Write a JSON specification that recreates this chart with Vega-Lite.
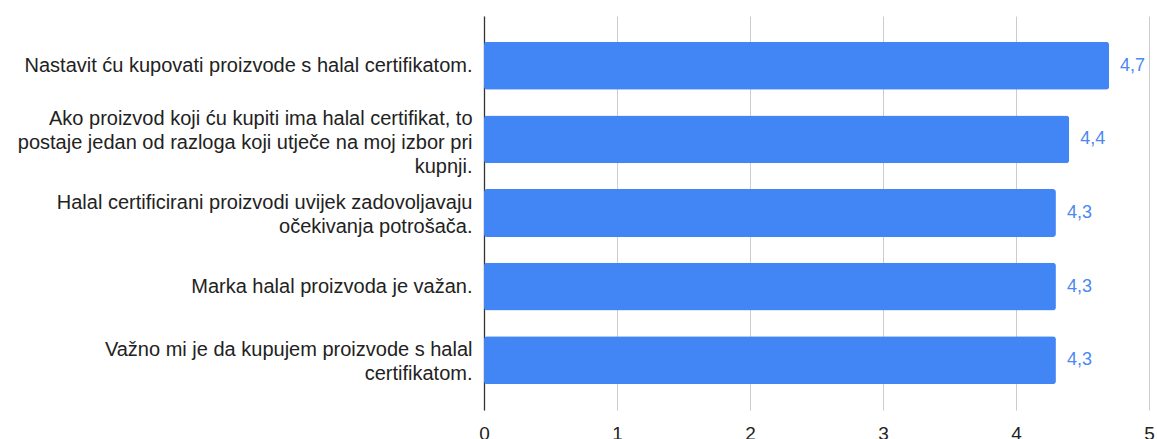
{
  "$schema": "https://vega.github.io/schema/vega-lite/v6.json",
  "width": 665,
  "height": 394,
  "autosize": {"type": "none"},
  "padding": {"left": 484, "top": 16, "right": 8, "bottom": 29},
  "background": "white",
  "config": {"view": {"stroke": null}, "font": "Liberation Sans"},
  "data": {
    "values": [
      {"label": "Nastavit ću kupovati proizvode s halal certifikatom.", "value": 4.7, "text": "4,7"},
      {"label": "Ako proizvod koji ću kupiti ima halal certifikat, to\npostaje jedan od razloga koji utječe na moj izbor pri\nkupnji.", "value": 4.4, "text": "4,4"},
      {"label": "Halal certificirani proizvodi uvijek zadovoljavaju\nočekivanja potrošača.", "value": 4.3, "text": "4,3"},
      {"label": "Marka halal proizvoda je važan.", "value": 4.3, "text": "4,3"},
      {"label": "Važno mi je da kupujem proizvode s halal\ncertifikatom.", "value": 4.3, "text": "4,3"}
    ]
  },
  "encoding": {
    "y": {
      "field": "label",
      "type": "nominal",
      "sort": null,
      "scale": {"paddingInner": 0.35, "paddingOuter": 0.35},
      "axis": {
        "title": null,
        "labelExpr": "split(datum.label, '\\n')",
        "labelFontSize": 20,
        "labelLineHeight": 24,
        "labelColor": "#222222",
        "labelPadding": 12,
        "labelLimit": 600,
        "labelOffset": {
          "condition": [
            {"test": "length(split(datum.label, '\\n')) == 3", "value": -20},
            {"test": "length(split(datum.label, '\\n')) == 2", "value": -10}
          ],
          "value": 0
        },
        "ticks": false,
        "domain": true,
        "domainColor": "#333333",
        "domainWidth": 1.3,
        "labelBaseline": "middle"
      }
    },
    "x": {
      "field": "value",
      "type": "quantitative",
      "scale": {"domain": [0, 5], "nice": false},
      "axis": {
        "title": null,
        "values": [0, 1, 2, 3, 4, 5],
        "labelFontSize": 19,
        "labelColor": "#222222",
        "labelPadding": 14,
        "labelBaseline": "top",
        "domain": false,
        "ticks": false,
        "grid": true,
        "gridColor": "#cccccc",
        "gridWidth": 1,
        "labelFlush": false
      }
    }
  },
  "layer": [
    {
      "mark": {"type": "bar", "color": "#4285f4", "cornerRadius": 3}
    },
    {
      "mark": {"type": "text", "align": "left", "baseline": "middle", "dx": 11, "fontSize": 18, "color": "#4a88f2"},
      "encoding": {"text": {"field": "text", "type": "nominal"}}
    }
  ]
}
